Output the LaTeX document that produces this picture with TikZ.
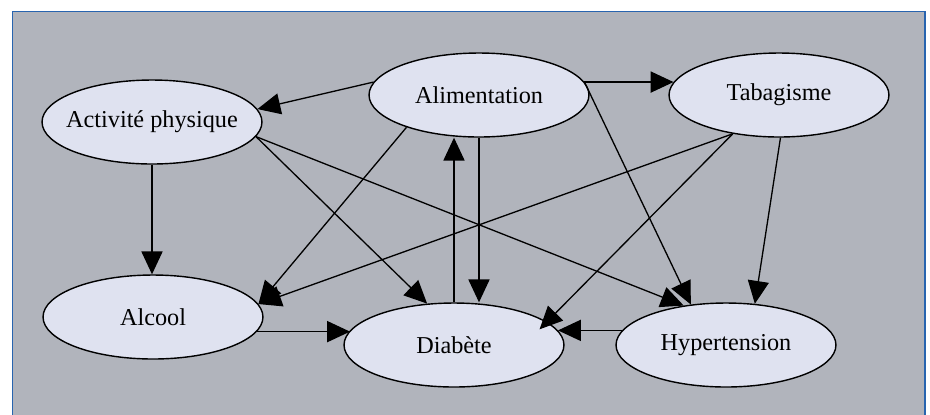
\documentclass[tikz,border=0pt]{standalone}
\usepackage{fontspec}
\setmainfont{Liberation Serif}
\usetikzlibrary{arrows.meta,shapes.geometric}
\definecolor{fondgris}{RGB}{177,180,188}
\definecolor{bulle}{RGB}{223,226,240}
\definecolor{cadre}{RGB}{40,100,175}

\begin{document}
\begin{tikzpicture}[x=0.02cm,y=-0.02cm,
  facteur/.style={ellipse,draw,line width=0.8pt,fill=bulle,minimum width=4.4cm,
    minimum height=1.68cm,inner xsep=-1cm,font=\fontsize{13.8}{16}\selectfont},
  lien/.style={line width=0.75pt,-{Triangle[length=13pt,width=12pt]}}]
 \useasboundingbox (0,0) rectangle (930,414); %page
 \fill[fondgris] (12.5,11.5) rectangle (925,420); %fond
 \draw[cadre,line width=0.9pt] (12.5,420)--(12.5,11.5)--(925,11.5)--(925,420); %cadre

 \node[facteur] (act) at (152,122) {Activité physique};
 \node[facteur] (ali) at (479,95) {Alimentation};
 \node[facteur] (tab) at (779,95) {Tabagisme};
 \node[facteur] (alc) at (153,317) {Alcool};
 \node[facteur] (diab) at (454,345) {Diabète};
 \node[facteur] (hyp) at (726,345) {Hypertension};

 \draw[lien] (ali.173) -- (act.7);
 \draw[lien] (ali.7) -- (tab.173);
 \draw[lien] (ali.204) -- (alc.7);
 \draw[lien] (ali.south) -- (ali.south |- diab.north);
 \draw[lien] (diab.north) -- (diab.north |- ali.south);
 \draw[lien] (ali.7) -- (hyp.131);
 \draw[lien] (act.south) -- (act.south |- alc.north);
 \draw[lien] (act.-8) -- (diab.123);
 \draw[lien] (act.-8) -- (hyp.137);
 \draw[lien] (tab.220) -- (alc.7);
 \draw[lien,shorten >=-6pt] (tab.220) -- (diab.14);
 \draw[lien] (tab.-88) -- (hyp.55);
 \draw[lien] (alc.-8) -- (alc.-8 -| diab.172); %vers diabete
 \draw[lien] (hyp.172) -- (hyp.172 -| diab.8);
\end{tikzpicture}
\end{document}
